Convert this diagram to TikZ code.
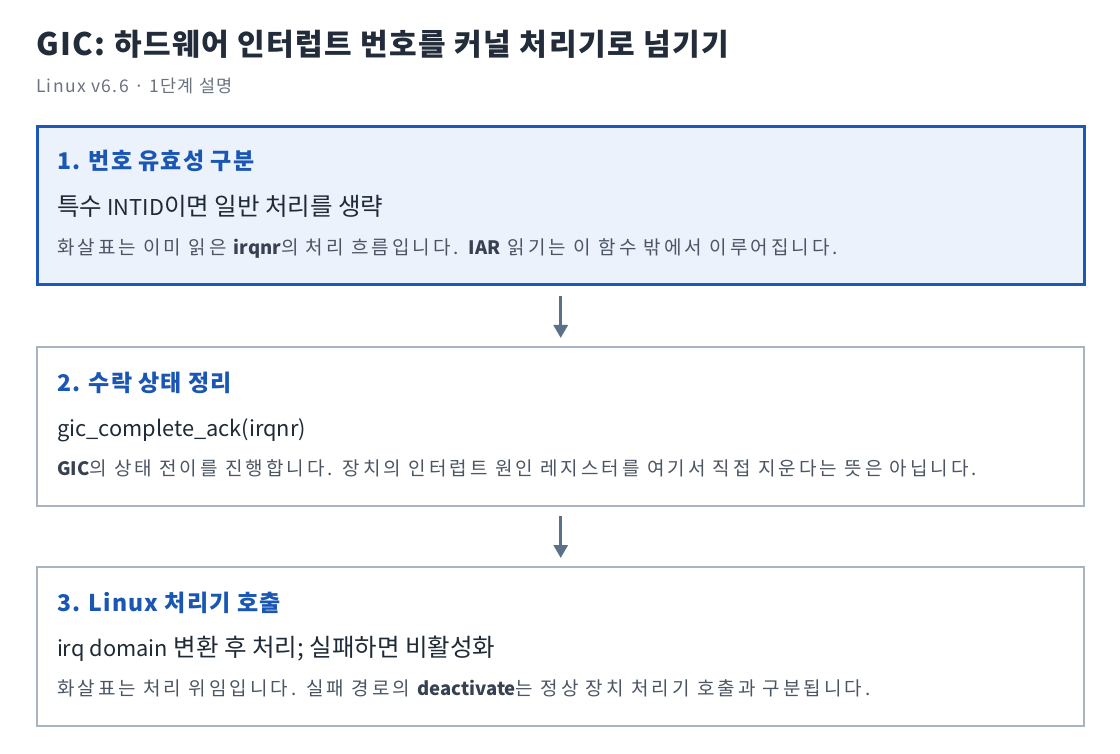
\documentclass[tikz,border=0pt]{standalone}
\usepackage{fontspec}
\setmainfont{Noto Sans CJK KR}
\newfontfamily\notef{Noto Sans CJK KR}[LetterSpace=16]
\newfontfamily\subf{Noto Sans CJK KR}[LetterSpace=8]
\newfontfamily\titlef{Noto Sans CJK KR}[LetterSpace=5]
\newfontfamily\headf{Noto Sans CJK KR}[LetterSpace=5]
\def\latsz{20}
\newcommand\lt[1]{{\fontsize{\latsz}{\latsz}\selectfont #1}}
\newcommand\ltn[1]{{\fontsize{18.5}{20}\selectfont\rmfamily\bfseries\color{notedark}#1}}
\usetikzlibrary{arrows.meta}
\definecolor{titlec}{HTML}{222C3A}
\definecolor{subc}{HTML}{6B7280}
\definecolor{headc}{HTML}{1A56B4}
\definecolor{bluebd}{HTML}{1D57B8}
\definecolor{bluefill}{HTML}{EBF2FC}
\definecolor{graybd}{HTML}{A9B4C2}
\definecolor{arrowc}{HTML}{5B7089}
\definecolor{bodyc}{HTML}{1F2A37}
\definecolor{notec}{HTML}{4B5563}
\definecolor{notedark}{HTML}{374151}
\tikzset{
  txt/.style={anchor=base west, inner sep=0pt, outer sep=0pt},
  stepactive/.style={draw=bluebd, line width=3pt, fill=bluefill},
  stepplain/.style={draw=graybd, line width=1.2pt, fill=white},
  headtxt/.style={txt, text=headc, font=\fontsize{23}{26}\selectfont\headf\bfseries},
  bodytxt/.style={txt, text=bodyc, font=\fontsize{24.5}{28}\selectfont\def\latsz{21.8}},
  notetxt/.style={txt, text=notec, font=\fontsize{19}{22}\selectfont\notef},
  flow/.style={draw=arrowc, line width=3pt, -{Triangle[width=14pt,length=13pt]}},
}
\begin{document}
\begin{tikzpicture}[x=1pt,y=-1pt]
\useasboundingbox[fill=white] (0,0) rectangle (1120,754);
\node[txt, text=titlec, font=\fontsize{30}{34}\selectfont\titlef\bfseries\def\latsz{31}] (title) at (36,56) {\lt{GIC:} 하드웨어 인터럽트 번호를 커널 처리기로 넘기기};
\node[txt, text=subc, font=\fontsize{17.5}{20}\selectfont\subf] (sub) at (36,93) {Linux v6.6 · 1단계 설명};

\path[stepactive] (37,127) rectangle (1084,285);
\node[inner sep=0pt, minimum width=1047pt, minimum height=158pt, anchor=north west] (b1) at (37,127) {};
\node[headtxt] (h1) at (57,170) {1. 번호 유효성 구분};
\node[bodytxt] (t1) at (57,216) {특수 \lt{INTID}이면 일반 처리를 생략};
\node[notetxt] (n1) at (57,255) {화살표는 이미 읽은 \ltn{irqnr}의 처리 흐름입니다. \ltn{IAR} 읽기는 이 함수 밖에서 이루어집니다.};

\path[stepplain] (37,347) rectangle (1084,506);
\node[inner sep=0pt, minimum width=1047pt, minimum height=159pt, anchor=north west] (b2) at (37,347) {};
\node[headtxt] (h2) at (57,391) {2. 수락 상태 정리};
\node[bodytxt] (t2) at (57,436) {\lt{gic\_complete\_ack(irqnr)}};
\node[notetxt] (n2) at (57,475) {\ltn{GIC}의 상태 전이를 진행합니다. 장치의 인터럽트 원인 레지스터를 여기서 직접 지운다는 뜻은 아닙니다.};

\path[stepplain] (37,567) rectangle (1084,726);
\node[inner sep=0pt, minimum width=1047pt, minimum height=159pt, anchor=north west] (b3) at (37,567) {};
\node[headtxt] (h3) at (57,611) {3. Linux 처리기 호출};
\node[bodytxt] (t3) at (57,656) {\lt{irq domain} 변환 후 처리; 실패하면 비활성화};
\node[notetxt] (n3) at (57,695) {화살표는 처리 위임입니다. 실패 경로의 \ltn{deactivate}는 정상 장치 처리기 호출과 구분됩니다.};

\draw[flow] ([yshift=-11pt]b1.south) -- ([yshift=9pt]b2.north);
\draw[flow] ([yshift=-10pt]b2.south) -- ([yshift=9pt]b3.north);
\end{tikzpicture}
\end{document}
